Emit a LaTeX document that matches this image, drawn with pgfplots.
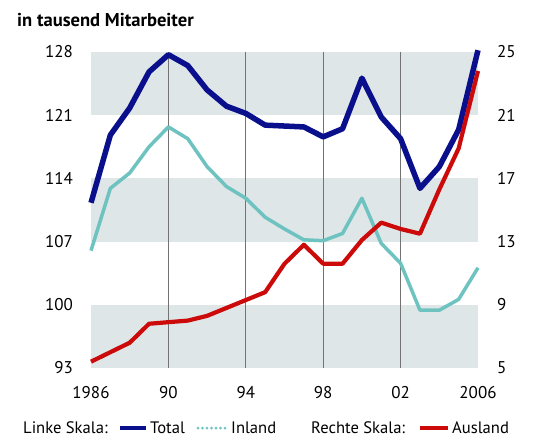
\documentclass[border=0pt]{standalone}
\usepackage{fontspec}
\setmainfont{PT Sans}
\usepackage{pgfplots}
\pgfplotsset{compat=1.18}

\definecolor{navy}{HTML}{0A0F8C}
\definecolor{tealline}{HTML}{6EC3C1}
\definecolor{redline}{HTML}{CC0A0A}
\definecolor{band}{HTML}{DFE6E7}

\pgfplotsset{
  base/.style={
    width=387pt, height=316pt, scale only axis,
    xmin=1986, xmax=2006,
    axis line style={draw=none},
    major tick length=0pt,
    clip=false,
    tick label style={font=\fontsize{17}{19}\selectfont},
    /pgf/number format/assume math mode=true,
  },
}

\begin{document}
\begin{tikzpicture}[font=\fontsize{16.6}{18}\selectfont]
\begin{axis}[base,
  ymin=93, ymax=128,
  ytick={93,100,...,128}, ytick pos=left,
  yticklabel style={inner sep=0pt, anchor=east, xshift=-18pt},
  xtick={1986,1990,...,2006}, xtick pos=bottom,
  xticklabels={1986,90,94,98,02,2006},
  xticklabel style={inner sep=0pt, anchor=north, yshift=-18pt},
]
\fill[band] (axis cs:1986,121) rectangle (axis cs:2006,128);
\fill[band] (axis cs:1986,107) rectangle (axis cs:2006,114);
\fill[band] (axis cs:1986,93) rectangle (axis cs:2006,100);
\foreach \yr in {1990,1994,1998,2002}{
  \edef\tmp{\noexpand\draw[black!55, line width=0.9pt] (axis cs:\yr,93) -- (axis cs:\yr,128);}
  \tmp
}
% Inland
\addplot[tealline, line width=3.5pt, line join=round] table {
1986 106.0
1987 112.9
1988 114.6
1989 117.5
1990 119.7
1991 118.4
1992 115.3
1993 113.1
1994 111.8
1995 109.7
1996 108.4
1997 107.2
1998 107.1
1999 107.9
2000 111.8
2001 106.8
2002 104.6
2003 99.4
2004 99.4
2005 100.6
2006 104.1
};
% Total
\addplot[navy, line width=5.5pt, line join=round] table {
1986 111.3
1987 118.8
1988 121.8
1989 125.8
1990 127.7
1991 126.5
1992 123.8
1993 122.0
1994 121.2
1995 119.9
1996 119.8
1997 119.7
1998 118.6
1999 119.5
2000 125.1
2001 120.8
2002 118.4
2003 112.9
2004 115.3
2005 119.4
2006 128.2
};
\coordinate (bl) at (rel axis cs:0,0);
\end{axis}
\begin{axis}[base,
  ymin=5, ymax=25,
  axis y line*=right, hide x axis,
  ytick={5,9,...,25},
  yticklabel style={inner sep=0pt, anchor=west, xshift=19pt},
]
% Ausland
\addplot[redline, line width=4.2pt, line join=round] table {
1986 5.4
1987 6.0
1988 6.6
1989 7.8
1990 7.9
1991 8.0
1992 8.3
1993 8.8
1994 9.3
1995 9.8
1996 11.6
1997 12.8
1998 11.6
1999 11.6
2000 13.1
2001 14.2
2002 13.8
2003 13.5
2004 16.3
2005 18.9
2006 23.8
};
\end{axis}
% title
\node[anchor=base west, inner sep=0pt, font=\fontsize{18.6}{20}\selectfont\bfseries]
  at ([shift={(-74pt,341pt)}]bl) {in tausend Mitarbeiter};
% legend
\node[anchor=base west, inner sep=0pt] at ([shift={(-68pt,-65pt)}]bl) {Linke Skala:};
\draw[navy, line width=4pt] ([shift={(29pt,-60pt)}]bl) -- ([shift={(55pt,-60pt)}]bl);
\node[anchor=base west, inner sep=0pt] at ([shift={(59pt,-65pt)}]bl) {Total};
\draw[tealline, line width=3pt, line cap=round, dash pattern=on 0pt off 4.5pt]
  ([shift={(107pt,-60pt)}]bl) -- ([shift={(135pt,-60pt)}]bl);
\node[anchor=base west, inner sep=0pt] at ([shift={(140pt,-65pt)}]bl) {Inland};
\node[anchor=base west, inner sep=0pt] at ([shift={(220pt,-65pt)}]bl) {Rechte Skala:};
\draw[redline, line width=4pt] ([shift={(329pt,-60pt)}]bl) -- ([shift={(357pt,-60pt)}]bl);
\node[anchor=base west, inner sep=0pt] at ([shift={(361pt,-65pt)}]bl) {Ausland};
\pgfresetboundingbox
\path ([shift={(-91pt,-69pt)}]bl) rectangle ([shift={(456pt,368pt)}]bl);
\end{tikzpicture}
\end{document}
